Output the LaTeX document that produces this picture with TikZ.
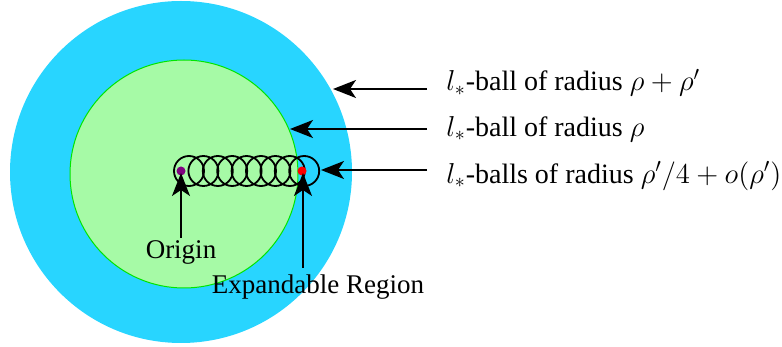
\documentclass[tikz,border=0pt]{standalone}
\usepackage{fontspec}
\setmainfont{Liberation Serif}
\usetikzlibrary{arrows.meta}
\definecolor{outerc}{RGB}{40,213,255}
\definecolor{innerc}{RGB}{166,250,166}
\definecolor{innerb}{RGB}{0,230,0}
\definecolor{orig}{RGB}{128,0,128}
\begin{document}
\begin{tikzpicture}[x=0.5pt,y=-0.5pt,
  lbl/.style={font=\fontsize{13.5}{16}\selectfont, inner sep=0pt},
  rlbl/.style={font=\fontsize{14}{16}\selectfont, inner sep=0pt, anchor=west},
  arr/.style={line width=1pt,-{Stealth[length=11.5pt,width=9pt,inset=3pt]}},
  smallball/.style={draw=black,line width=0.9pt}]
\useasboundingbox (0,0) rectangle (782,347);
\fill[outerc] (181,172) circle[radius=171];
\filldraw[fill=innerc,draw=innerb,line width=0.5pt] (184,174) circle[radius=114];
\foreach \i in {0,...,8} {
  \draw[smallball] ({189+14.4*\i},171) circle[radius=15];
}
\fill[orig] (181,171) circle[radius=4.5];
\fill[red] (302,171) circle[radius=4.5];
\coordinate (o) at (181,173);
\coordinate (e) at (303,173);
\coordinate (p1) at (333,89);
\coordinate (p2) at (290,129);
\coordinate (p3) at (321,170);
\node[lbl] (origin) at (181,252) {Origin};
\node[lbl] (expand) at (318,287) {Expandable Region};
\node[rlbl] (t1) at (446,83) {$l_*$-ball of radius $\rho+\rho'$};
\node[rlbl] (t2) at (446,129) {$l_*$-ball of radius $\rho$};
\node[rlbl] (t3) at (446,176) {$l_*$-balls of radius $\rho'/4+o(\rho')$};
\coordinate (s1) at (427,89);
\coordinate (s2) at (427,129);
\coordinate (s3) at (427,170);
\draw[arr] (s1) -- (p1);
\draw[arr] (s2) -- (p2);
\draw[arr] (s3) -- (p3);
\draw[arr] (181,238) -- (o);
\draw[arr] (303,268) -- (e);
\end{tikzpicture}
\end{document}
